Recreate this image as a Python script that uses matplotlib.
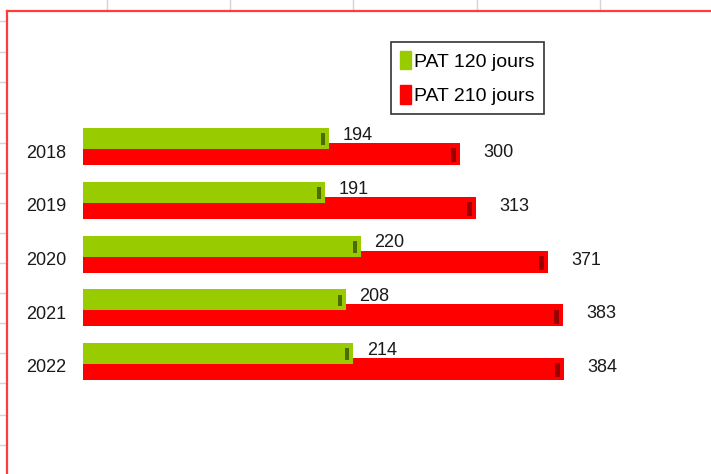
import numpy as np
import matplotlib
matplotlib.use("Agg")
import matplotlib.pyplot as plt
from matplotlib.lines import Line2D
from matplotlib.patches import Patch

plt.rcParams['font.family'] = ['Liberation Sans Narrow', 'Liberation Sans', 'DejaVu Sans']

# data
years = ["2018", "2019", "2020", "2021", "2022"]
pat_120 = [194, 191, 220, 208, 214]
pat_210 = [300, 313, 371, 383, 384]
series_names = ["PAT 120 jours", "PAT 210 jours"]

green = "#99cc00"
green_dark = "#4f6b00"
red = "#ff0000"
red_dark = "#9a0000"

W, H = 711, 474
fig = plt.figure(figsize=(W / 100, H / 100), dpi=100)

# spreadsheet background: cell grid + red chart border
top = 1 - 11 / H
for x in [107, 230, 353, 477, 600]:
    fig.add_artist(Line2D([x / W, x / W], [top, 1], color="#d4d4d4", lw=1, transform=fig.transFigure))
for y in [21, 52, 82, 113, 143, 173, 203, 233, 263, 293, 323, 353, 383, 415, 445]:
    fig.add_artist(Line2D([0, 7 / W], [1 - y / H, 1 - y / H], color="#d4d4d4", lw=1, transform=fig.transFigure))
fig.add_artist(Line2D([7 / W, 7 / W], [0, top], color="#ff3b3b", lw=1.6, transform=fig.transFigure))
fig.add_artist(Line2D([7 / W, 1], [top, top], color="#ff3b3b", lw=1.6, transform=fig.transFigure))

ax = fig.add_axes([83 / W, (H - 420) / H, (700 - 83) / W, 320 / H])
px = 1.24  # pixels per unit on x
depth = 5 / px  # fake 3d depth of the bars

y = np.arange(len(years))
g = np.array(pat_120)
r = np.array(pat_210)

# bars, drawn a little longer for the excel 3d depth
ax.barh(y + 0.06, r + depth, height=0.41, color=red, zorder=2)
ax.barh(y - 0.23, g + depth, height=0.39, color=green, zorder=3)
# darker side faces near the bar ends
ax.barh(y + 0.08, 5 / px, left=r - 4 / px, height=0.26, color=red_dark, zorder=4)
ax.barh(y - 0.22, 4 / px, left=g - 3 / px, height=0.22, color=green_dark, zorder=4)

for i in range(len(years)):
    ax.text(g[i] + 15, y[i] - 0.29, str(g[i]), va="center", ha="left", fontsize=13, color="#1a1a1a")
    ax.text(r[i] + 23, y[i] + 0.03, str(r[i]), va="center", ha="left", fontsize=13, color="#1a1a1a")

ax.set_xlim(0, (700 - 83) / px)
ax.set_ylim(5.005, -0.949)
ax.set_yticks(y)
ax.set_yticklabels(years, fontsize=13, color="#1a1a1a")
ax.tick_params(axis="y", length=0, pad=12)
ax.set_xticks([])
for s in ax.spines.values():
    s.set_visible(False)
ax.patch.set_alpha(0)

handles = [Patch(color=green), Patch(color=red)]
leg = fig.legend(handles, series_names, loc="upper left", bbox_to_anchor=(391 / W, 1 - 42 / H),
                 borderaxespad=0, fontsize=14, frameon=True, fancybox=False, edgecolor="black",
                 handlelength=0.6, handleheight=1.1, handletextpad=0.15, labelspacing=0.75,
                 borderpad=0.45)
leg.get_frame().set_linewidth(1.2)

fig.savefig("out.png", dpi=100)
